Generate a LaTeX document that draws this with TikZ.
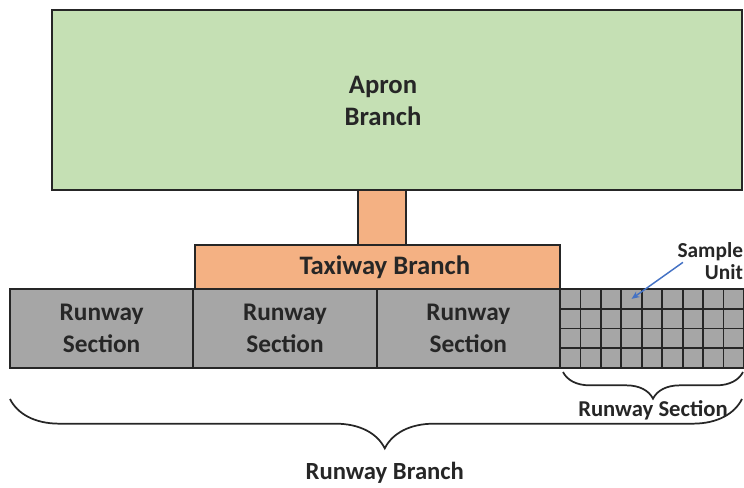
\documentclass[tikz,border=0pt]{standalone}
\usepackage{fontspec}
\setmainfont{Carlito}
\usepackage{tikz}
\usetikzlibrary{decorations.pathreplacing}
\usetikzlibrary{arrows.meta}
\definecolor{aprongreen}{HTML}{C5E0B4}
\definecolor{taxiorange}{HTML}{F4B183}
\definecolor{rwgrey}{HTML}{A6A6A6}
\definecolor{arrowblue}{HTML}{4472C4}

\begin{document}
\begin{tikzpicture}[x=0.75pt,y=0.75pt]

        \tikzstyle{every node}=[inner sep=0pt,outer sep=0pt,align=center,text=black!85,font=\bfseries\fontsize{19}{24}\selectfont]
        \tikzstyle{block}=[draw=black!85,line width=1.3pt,rectangle]
        \tikzstyle{curly}=[decorate,line width=1.3pt,draw=black!85]

        \useasboundingbox (0,0) rectangle (744,-487);

        \node[block,fill=taxiorange,minimum width=36pt,minimum height=41.25pt] (stem) at (382,-217.5) {};
        \node[block,fill=aprongreen,minimum width=517.5pt,minimum height=135pt] (apron) at (397,-100) {};
        \node[font=\bfseries\fontsize{20}{24}\selectfont] (apron_txt) at (383,-101) {Apron\\Branch};
        \node[block,fill=taxiorange,minimum width=273.75pt,minimum height=33pt,font=\bfseries\fontsize{20}{24}\selectfont] (taxiway) at (377.5,-267) {\hspace*{11pt}Taxiway Branch};

        \foreach \i in {1,2,3} {
            \node[block,fill=rwgrey,minimum width=137.5pt,minimum height=59.25pt] (rs_\i) at ({10+183.33*(\i-0.5)},-328.5) {Runway\\Section};
        }

        \node[block,fill=rwgrey,minimum width=138pt,minimum height=59.25pt] (grid) at (652,-328.5) {};
        \foreach \c in {1,...,8} {
            \draw[line width=1.3pt,black!85] ([xshift=\c*15.33pt]grid.north west) -- ([xshift=\c*15.33pt]grid.south west);
        }
        \foreach \r in {1,2,3} {
            \draw[line width=1.3pt,black!85] ([yshift=-\r*14.81pt]grid.north west) -- ([yshift=-\r*14.81pt]grid.north east);
        }
        \coordinate (cell) at ([xshift=3.5*15.33pt,yshift=-0.5*14.81pt]grid.north west);

        \node[anchor=east,align=right,font=\bfseries\fontsize{16}{17}\selectfont] (sample) at (743,-261) {Sample\\Unit};
        \draw[-{Stealth[length=6pt,width=5pt]},arrowblue,line width=1.1pt] ([xshift=4pt,yshift=-1pt]sample.west) -- (cell);

        % braces under the runway
        \coordinate (rs_l) at (563,-372);
        \coordinate (rs_r) at (743,-372);
        \draw[curly,decoration={brace,mirror,amplitude=20pt}] (rs_l) -- (rs_r)
            node[midway,yshift=-28.5pt,font=\bfseries\fontsize{17}{18}\selectfont] (rs_lbl) {Runway Section};

        \coordinate (rb_l) at (10,-399);
        \coordinate (rb_r) at (742,-399);
        \draw[curly,decoration={brace,mirror,amplitude=37pt,aspect=0.512}] (rb_l) -- (rb_r)
            node[pos=0.512,yshift=-55pt,font=\bfseries\fontsize{18.5}{20}\selectfont] (rb_lbl) {Runway Branch};

\end{tikzpicture}
\end{document}
